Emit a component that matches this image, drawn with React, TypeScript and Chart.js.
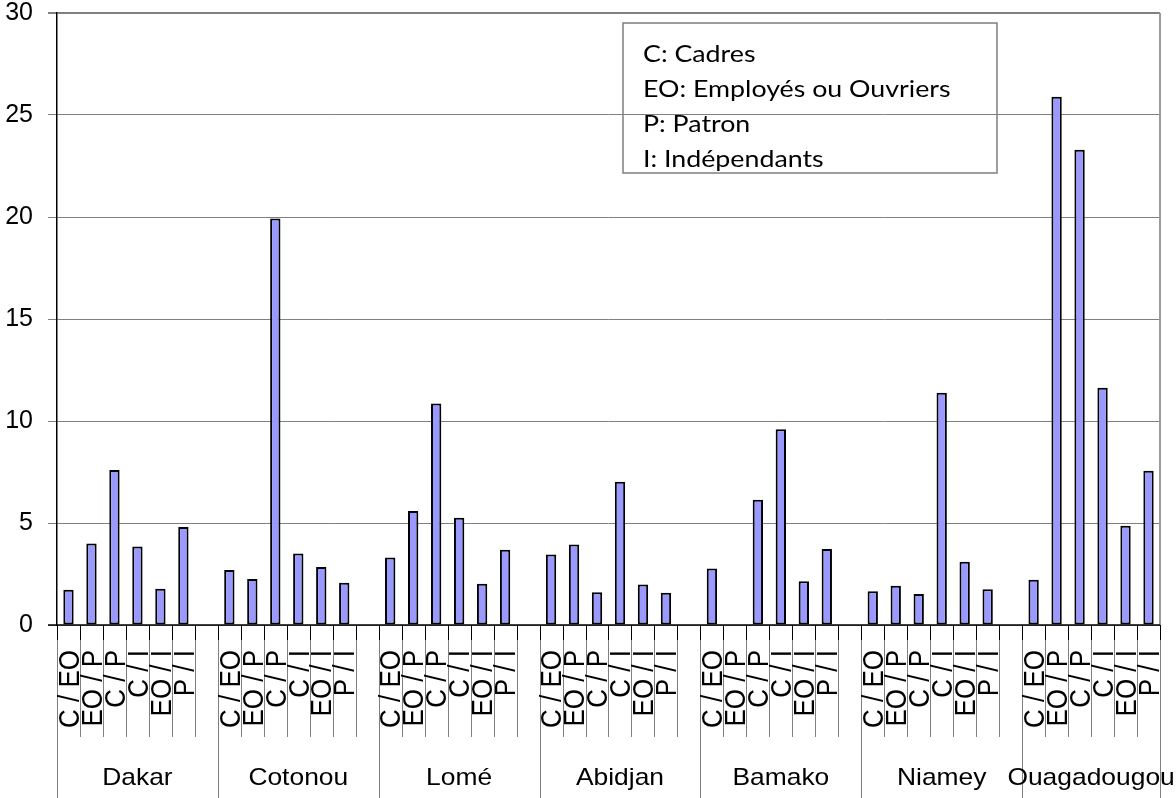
import React, { useEffect, useRef } from "react";
import { Chart, registerables } from "chart.js";

Chart.register(...registerables);

// ---- Data ----
const cities = ["Dakar", "Cotonou", "Lomé", "Abidjan", "Bamako", "Niamey", "Ouagadougou"];
const pairLabels = ["C / EO", "EO / P", "C / P", "C / I", "EO / I", "P / I"];
const dakar = [1.73, 3.99, 7.6, 3.85, 1.78, 4.8];
const cotonou = [2.7, 2.25, 19.93, 3.51, 2.84, 2.07];
const lome = [3.31, 5.59, 10.86, 5.26, 2.02, 3.69];
const abidjan = [3.45, 3.95, 1.6, 7.02, 1.99, 1.58];
const bamako = [2.77, null, 6.14, 9.59, 2.14, 3.72];
const niamey = [1.65, 1.93, 1.52, 11.39, 3.1, 1.75];
const ouagadougou = [2.22, 25.9, 23.3, 11.63, 4.87, 7.56];
const cityValues = [dakar, cotonou, lome, abidjan, bamako, niamey, ouagadougou];
const legendLines = ["C: Cadres", "EO: Employés ou Ouvriers", "P: Patron", "I: Indépendants"];
const yMin = 0;
const yMax = 30;
const yStep = 5;

// Build flat category table (a blank slot separates cities)
const slotLabels: string[] = [];
const slotValues: (number | null)[] = [];
const groups: { name: string; start: number; end: number }[] = [];
cities.forEach((city, ci) => {
  const start = slotLabels.length;
  pairLabels.forEach((lab, pi) => {
    slotLabels.push(lab);
    slotValues.push(cityValues[ci][pi]);
  });
  if (ci < cities.length - 1) {
    slotLabels.push("");
    slotValues.push(null);
  }
  groups.push({ name: city, start, end: slotLabels.length });
});

const SX = 1.1; // horizontal text stretch as in the reference

const categoryAxisPlugin = {
  id: "categoryAxisPlugin",
  afterDraw(chart: any) {
    const { ctx, chartArea } = chart;
    const x = chart.scales.x;
    const n = slotLabels.length;
    const w = x.getPixelForValue(1) - x.getPixelForValue(0);
    const axisY = chartArea.bottom;
    const b = (i: number) => x.getPixelForValue(i) - w / 2;
    const groupEdges = new Set<number>();
    groups.forEach((g) => {
      groupEdges.add(g.start);
      groupEdges.add(g.end);
    });
    ctx.save();
    // right border of plot
    ctx.strokeStyle = "#9a9a9a";
    ctx.lineWidth = 2;
    ctx.beginPath();
    ctx.moveTo(chartArea.right, chartArea.top);
    ctx.lineTo(chartArea.right, axisY);
    ctx.stroke();

    // separators
    for (let i = 0; i <= n; i++) {
      const px = Math.round(b(i)) + 0.5;
      const isGroup = groupEdges.has(i);
      ctx.strokeStyle = "#808080";
      ctx.lineWidth = 1;
      ctx.beginPath();
      ctx.moveTo(px, axisY);
      ctx.lineTo(px, isGroup ? chart.height : axisY + 112);
      ctx.stroke();
      ctx.strokeStyle = "#000";
      ctx.beginPath();
      ctx.moveTo(px, axisY);
      ctx.lineTo(px, axisY + 15);
      ctx.stroke();
    }

    // rotated sub labels
    const subSize = 26;
    ctx.fillStyle = "#000";
    ctx.font = `${subSize}px "Liberation Sans", Arial, sans-serif`;
    ctx.textAlign = "right";
    ctx.textBaseline = "alphabetic";
    const capH = subSize * 0.716;
    for (let i = 0; i < n; i++) {
      if (!slotLabels[i]) continue;
      const cx = x.getPixelForValue(i);
      ctx.save();
      ctx.translate(cx, axisY + 25);
      ctx.rotate(-Math.PI / 2);
      ctx.scale(1, SX);
      ctx.fillText(slotLabels[i], 0, capH / 2);
      ctx.restore();
    }

    // city names
    ctx.font = `24px "Liberation Sans", Arial, sans-serif`;
    ctx.textAlign = "center";
    groups.forEach((g) => {
      const cx = (b(g.start) + b(g.end)) / 2;
      ctx.save();
      ctx.translate(cx, axisY + 160);
      ctx.scale(SX, 1);
      ctx.fillText(g.name, 0, 0);
      ctx.restore();
    });

    // x axis line
    ctx.strokeStyle = "#000";
    ctx.lineWidth = 1.5;
    ctx.beginPath();
    ctx.moveTo(chartArea.left - 9, axisY);
    ctx.lineTo(chartArea.right, axisY);
    ctx.stroke();

    // text box
    const bx = 623, by = 23, bw = 374, bh = 150;
    ctx.strokeStyle = "#7f7f7f";
    ctx.lineWidth = 1.5;
    ctx.strokeRect(bx, by, bw, bh);
    ctx.font = `24px Lato, "Open Sans", sans-serif`;
    ctx.textAlign = "left";
    legendLines.forEach((line, i) => {
      ctx.save();
      ctx.translate(bx + 20, by + 39 + i * 35);
      ctx.scale(1.115, 1);
      ctx.fillText(line, 0, 0);
      ctx.restore();
    });
    ctx.restore();
  },
};

export default function App() {
  const ref = useRef<HTMLCanvasElement | null>(null);
  useEffect(() => {
    if (!ref.current) return;
    const chart = new Chart(ref.current, {
      type: "bar",
      data: {
        labels: slotLabels,
        datasets: [
          {
            data: slotValues,
            backgroundColor: "#9999ff",
            borderColor: "#000000",
            borderWidth: 2,
            borderSkipped: false,
            categoryPercentage: 1,
            barPercentage: 0.45,
          },
        ],
      },
      options: {
        responsive: false,
        animation: false,
        layout: { padding: { left: 0, top: 13, right: 16, bottom: 0 } },
        plugins: { legend: { display: false }, tooltip: { enabled: false } },
        scales: {
          x: {
            type: "category",
            offset: true,
            grid: { display: false },
            border: { display: false },
            ticks: { display: false },
            afterFit: (s: any) => {
              s.height = 173;
              s.paddingLeft = 0;
              s.paddingRight = 0;
              s.paddingTop = 0;
              s.paddingBottom = 0;
            },
          },
          y: {
            min: yMin,
            max: yMax,
            ticks: {
              stepSize: yStep,
              color: "#000",
              padding: 15,
              font: { family: '"Liberation Sans", Arial, sans-serif', size: 25, lineHeight: 1 },
            },
            grid: {
              color: "#808080",
              lineWidth: (c: any) => (c.tick && c.tick.value === yMax ? 2 : 1),
              tickLength: 9,
            },
            border: { display: true, color: "#000", width: 1.5 },
            afterFit: (s: any) => {
              s.width = 57;
              s.paddingTop = 0;
              s.paddingBottom = 0;
              s.paddingLeft = 0;
              s.paddingRight = 0;
            },
          },
        },
      },
      plugins: [categoryAxisPlugin],
    });
    return () => chart.destroy();
  }, []);
  return (
    <div style={{ position: "absolute", left: 0, top: 0, width: 1176, height: 798 }}>
      <canvas ref={ref} width={1176} height={798} style={{ display: "block" }} />
    </div>
  );
}
